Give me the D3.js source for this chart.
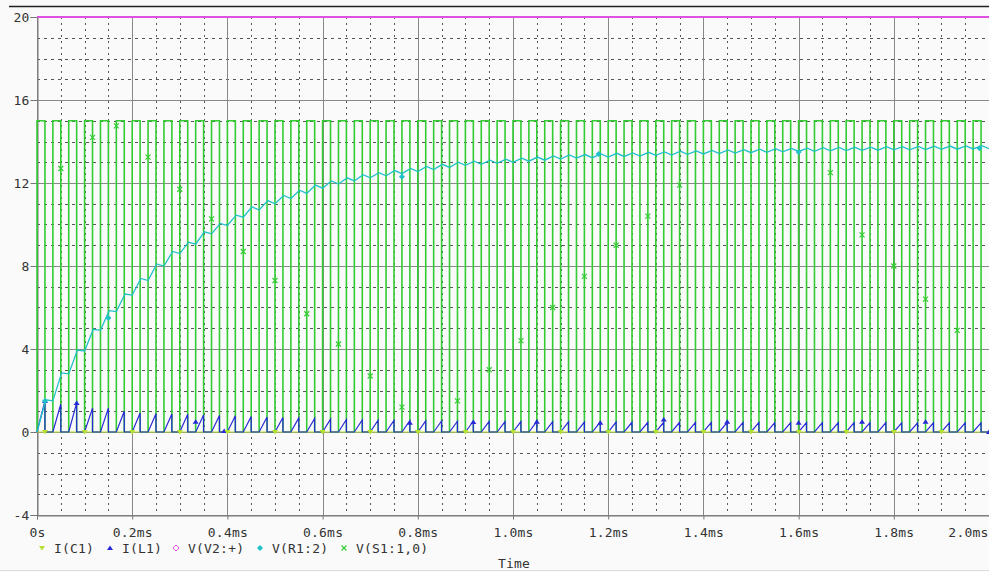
<!DOCTYPE html>
<html><head><meta charset="utf-8">
<script src="https://cdn.jsdelivr.net/npm/d3@7"></script>
<style>
body{margin:0;background:#fafafa}
svg{display:block}
text{font-family:"DejaVu Sans Mono",monospace;font-size:13px;fill:#333}
</style></head><body>
<svg id="c" width="989" height="572"></svg>
<script>
// ---------- data ----------
const xTickValues = [0,0.2,0.4,0.6,0.8,1.0,1.2,1.4,1.6,1.8,2.0];
const xTickLabels = ["0s","0.2ms","0.4ms","0.6ms","0.8ms","1.0ms","1.2ms","1.4ms","1.6ms","1.8ms","2.0ms"];
const yTickValues = [-4,0,4,8,12,16,20];
const yTickLabels = ["-4","0","4","8","12","16","20"];
const seriesNames = ["I(C1)","I(L1)","V(V2:+)","V(R1:2)","V(S1:1,0)"];

// switch pulse V(S1:1,0): levels and timing (ms)
const s1Levels = [0, 15];
const s1Timing = [1/30, 1/60]; // period, on-width
const s1Cycles = [60];

// V(V2:+) constant source
const v2Values = [20, 20];
const v2Times = [0, 2.0];

// V(R1:2) value at start of each switching period (61 values)
const vR1Trough = [0,1.5,2.8,3.9,4.9,5.8,6.6,7.3,8.0,8.6,
  9.05,9.55,9.95,10.35,10.7,11.0,11.25,11.5,11.75,11.95,
  12.1,12.25,12.35,12.45,12.55,12.65,12.75,12.85,12.9,12.95,
  13.0,13.05,13.1,13.15,13.2,13.22,13.25,13.28,13.3,13.33,
  13.35,13.38,13.4,13.42,13.44,13.46,13.48,13.5,13.52,13.53,
  13.55,13.56,13.57,13.58,13.6,13.6,13.61,13.62,13.63,13.64,13.65];
// V(R1:2) peak inside each period (60 values)
const vR1Peak = [1.55,2.85,3.95,4.95,5.85,6.65,7.4,8.1,8.7,9.15,
  9.65,10.05,10.45,10.85,11.15,11.4,11.65,11.9,12.1,12.25,
  12.4,12.5,12.6,12.7,12.8,12.9,13.0,13.05,13.1,13.15,
  13.2,13.25,13.3,13.35,13.37,13.4,13.43,13.45,13.48,13.5,
  13.53,13.55,13.57,13.59,13.61,13.63,13.65,13.67,13.68,13.7,
  13.71,13.72,13.73,13.75,13.75,13.76,13.77,13.78,13.79,13.8];
// I(L1) peak current in each period (60 values)
const iL1Peak = [1.5,1.35,1.4,1.15,1.15,1.0,0.92,0.88,0.87,0.85,
  0.82,0.8,0.78,0.75,0.72,0.7,0.68,0.65,0.62,0.6,
  0.58,0.57,0.56,0.55,0.54,0.53,0.52,0.52,0.51,0.5,
  0.5,0.5,0.49,0.49,0.48,0.48,0.48,0.47,0.47,0.47,
  0.47,0.46,0.46,0.46,0.46,0.46,0.45,0.45,0.45,0.45,
  0.45,0.45,0.45,0.45,0.44,0.44,0.44,0.44,0.44,0.44];
// I(C1) samples
const iC1Times = [0, 0.5, 1.0, 1.5, 2.0];
const iC1Values = [0, 0, 0, 0, 0];

// marker positions
const s1MarkT = [0.05,0.1167,0.1667,0.2333,0.3,0.3667,0.4333,0.5,0.5667,0.6333,0.7,0.7667,
  0.8833,0.95,1.0167,1.0833,1.15,1.2167,1.2833,1.35,1.6667,1.7333,1.8,1.8667,1.9333];
const s1MarkV = [12.7,14.2,14.75,13.25,11.7,10.27,8.7,7.3,5.7,4.24,2.7,1.2,
  1.5,3.0,4.4,6.0,7.5,9.0,10.4,11.9,12.5,9.5,8.0,6.4,4.9];
const iL1MarkT = [0.0167,0.0833,0.3333,0.3933,0.7833,0.9167,1.05,1.1833,1.3167,1.45,1.6,1.7333,1.8667,2.0];
const iL1MarkV = [1.5,1.4,0.5,0.05,0.45,0.48,0.5,0.45,0.6,0.5,0.45,0.5,0.5,0.0];
const vR1MarkT = [0.0167,0.15,0.7667,1.18,1.6,1.98];
const vR1MarkV = [1.5,5.5,12.3,13.4,13.5,13.68];
const iC1MarkT = [0.0167,0.1,0.2,0.3,0.4,0.5,0.6,0.7,0.8,0.9,1.0,1.1,1.2,1.3,1.4,1.5,1.6,1.7,1.8,1.9];
const iC1MarkV = [0,0,0,0,0,0,0,0,0,0,0,0,0,0,0,0,0,0,0,0];

// ---------- drawing ----------
const colors = {c1:"#b8e030", l1:"#2828d8", v2:"#e050e0", r1:"#20c0c8", s1:"#33cc33"};
const svg = d3.select("#c");
svg.append("rect").attr("width",989).attr("height",572).attr("fill","#fafafa");
const x = d3.scaleLinear().domain([0,2.0]).range([37,989]);
const y = d3.scaleLinear().domain([-4,20]).range([515,17]);

// window frame lines
svg.append("line").attr("x1",9).attr("x2",989).attr("y1",6.5).attr("y2",6.5).attr("stroke","#222").attr("stroke-width",1.5);
svg.append("line").attr("x1",0).attr("x2",989).attr("y1",570.5).attr("y2",570.5).attr("stroke","#ddd");

const grid = svg.append("g");
// minor grid
const minorX = d3.range(0,41).map(i=>i*0.05).filter(v=>Math.abs(v/0.2-Math.round(v/0.2))>1e-6);
const minorY = d3.range(-4,21).filter(v=>v%4!==0);
grid.selectAll(".mx").data(minorX).enter().append("line")
  .attr("x1",d=>Math.round(x(d))+0.5).attr("x2",d=>Math.round(x(d))+0.5)
  .attr("y1",y(20)).attr("y2",y(-4)).attr("stroke","#555").attr("stroke-dasharray","2,4");
grid.selectAll(".my").data(minorY).enter().append("line")
  .attr("x1",x(0)).attr("x2",x(2.0))
  .attr("y1",d=>Math.round(y(d))+0.5).attr("y2",d=>Math.round(y(d))+0.5)
  .attr("stroke","#555").attr("stroke-dasharray","3,4");
// major grid
grid.selectAll(".Mx").data(xTickValues).enter().append("line")
  .attr("x1",d=>Math.round(x(d))+0.5).attr("x2",d=>Math.round(x(d))+0.5)
  .attr("y1",y(20)).attr("y2",y(-4)).attr("stroke","#888");
grid.selectAll(".My").data(yTickValues).enter().append("line")
  .attr("x1",x(0)).attr("x2",x(2.0))
  .attr("y1",d=>Math.round(y(d))+0.5).attr("y2",d=>Math.round(y(d))+0.5)
  .attr("stroke","#888");

// axes
const xAxis = d3.axisBottom(x).tickValues(xTickValues)
  .tickFormat((d,i)=>xTickLabels[i]).tickSize(4).tickPadding(8);
const gx = svg.append("g").attr("transform",`translate(0,${Math.round(y(-4))+0.5})`).call(xAxis);
const yAxis = d3.axisLeft(y).tickValues(yTickValues)
  .tickFormat((d,i)=>yTickLabels[i]).tickSize(7).tickPadding(1);
const gy = svg.append("g").attr("transform",`translate(${Math.round(x(0))+0.5},0)`).call(yAxis);
[gx,gy].forEach(g=>{
  g.selectAll("path.domain").attr("stroke","#777");
  g.selectAll(".tick line").attr("stroke","#777");
  g.selectAll("text").attr("font-family","DejaVu Sans Mono, monospace").attr("font-size",13).attr("fill","#333").attr("letter-spacing",0.2);
});
gy.selectAll("text").attr("dy","0.36em");
// last x label sits flush with the right edge
gx.selectAll(".tick text").filter((d,i)=>i===xTickValues.length-1)
  .attr("text-anchor","end").attr("x",-1);

const line = d3.line().x(d=>x(d[0])).y(d=>y(d[1]));

// V(S1:1,0) square wave
const [T, Ton] = s1Timing;
const s1Pts = [];
for(let k=0;k<s1Cycles[0];k++){
  s1Pts.push([k*T,s1Levels[0]],[k*T,s1Levels[1]],[k*T+Ton,s1Levels[1]],[k*T+Ton,s1Levels[0]]);
}
s1Pts.push([2.0,s1Levels[0]]);
svg.append("path").attr("d",line(s1Pts)).attr("fill","none").attr("stroke",colors.s1).attr("stroke-width",1.6);

// I(C1)
svg.append("path").attr("d",line(iC1Times.map((t,i)=>[t,iC1Values[i]]))).attr("fill","none").attr("stroke",colors.c1).attr("stroke-width",1.2);

// I(L1) sawtooth
const l1Pts=[];
iL1Peak.forEach((p,k)=>{
  l1Pts.push([k*T,0],[k*T+Ton,p],[k*T+Ton,0]);
});
l1Pts.push([2.0,0]);
svg.append("path").attr("d",line(l1Pts)).attr("fill","none").attr("stroke",colors.l1).attr("stroke-width",1.2);

// V(R1:2)
const r1Pts=[];
vR1Peak.forEach((p,k)=>{
  r1Pts.push([k*T,vR1Trough[k]],[k*T+Ton*1.1,p]);
});
r1Pts.push([2.0,vR1Trough[60]]);
svg.append("path").attr("d",line(r1Pts)).attr("fill","none").attr("stroke",colors.r1).attr("stroke-width",1.3);

// V(V2:+)
svg.append("path").attr("d",line(v2Times.map((t,i)=>[t,v2Values[i]]))).attr("fill","none").attr("stroke",colors.v2).attr("stroke-width",2);

// markers
function marker(g, type, cx, cy, col){
  if(type==="down") g.append("path").attr("d",`M${cx-3},${cy-2}L${cx+3},${cy-2}L${cx},${cy+2.5}Z`).attr("fill",col);
  else if(type==="up") g.append("path").attr("d",`M${cx-3},${cy+2}L${cx+3},${cy+2}L${cx},${cy-2.5}Z`).attr("fill",col);
  else if(type==="diamond") g.append("path").attr("d",`M${cx},${cy-3}L${cx+3},${cy}L${cx},${cy+3}L${cx-3},${cy}Z`).attr("fill",col);
  else if(type==="odiamond") g.append("path").attr("d",`M${cx},${cy-3}L${cx+3},${cy}L${cx},${cy+3}L${cx-3},${cy}Z`).attr("fill","none").attr("stroke",col);
  else if(type==="x") g.append("path").attr("d",`M${cx-2.5},${cy-2.5}L${cx+2.5},${cy+2.5}M${cx+2.5},${cy-2.5}L${cx-2.5},${cy+2.5}`).attr("stroke",col).attr("stroke-width",1.2);
}
const mg = svg.append("g");
s1MarkT.forEach((t,i)=>marker(mg,"x",x(t),y(s1MarkV[i]),colors.s1));
iL1MarkT.forEach((t,i)=>marker(mg,"up",x(t),y(iL1MarkV[i]),colors.l1));
vR1MarkT.forEach((t,i)=>marker(mg,"diamond",x(t),y(vR1MarkV[i]),colors.r1));
iC1MarkT.forEach((t,i)=>marker(mg,"down",x(t),y(iC1MarkV[i]),colors.c1));

// legend
const legX = [42,110,176,260,344];
const legTypes = ["down","up","odiamond","diamond","x"];
const legCols = [colors.c1,colors.l1,colors.v2,colors.r1,colors.s1];
const lg = svg.append("g");
seriesNames.forEach((n,i)=>{
  marker(lg,legTypes[i],legX[i],548,legCols[i]);
  lg.append("text").attr("x",legX[i]+12).attr("y",552.5).attr("letter-spacing",0.2).text(n);
});
svg.append("text").attr("x",498).attr("y",568).attr("letter-spacing",0.2).text("Time");
</script></body></html>
